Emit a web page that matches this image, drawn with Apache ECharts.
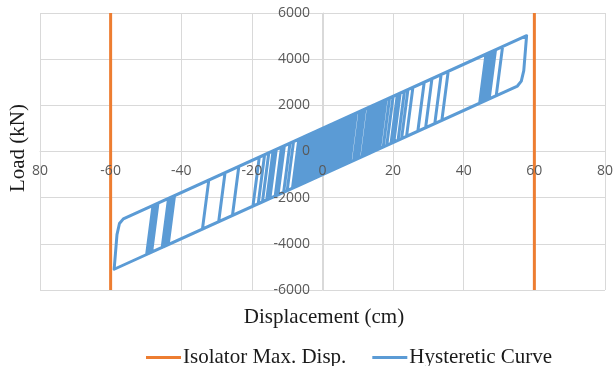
<!DOCTYPE html>
<html>
<head>
<meta charset="utf-8">
<script src="https://cdn.jsdelivr.net/npm/echarts@6/dist/echarts.min.js"></script>
<style>
  html, body { margin: 0; padding: 0; background: #ffffff; }
  #chart { width: 616px; height: 366px; }
</style>
</head>
<body>
<div id="chart"></div>
<script>
// ---- data ----
const xTickLabels = ['80', '-60', '-40', '-20', '0', '20', '40', '60', '80'];
const yTickLabels = ['-6000', '-4000', '-2000', '0', '2000', '4000', '6000'];
const isolatorLimits = [-60, 60];
const isolatorLoadSpan = [-6000, 6000];
const seriesNames = ['Isolator Max. Disp.', 'Hysteretic Curve'];

// hysteretic curve vertices [displacement (cm), load (kN)] in path order
const hysteresisPath = [
  [0, 0],
  [3.0, 1209], [1.2, -917],
  [-2.5, -1174], [-0.7, 951],
  [4.2, 1292], [2.4, -833],
  [-3.7, -1257], [-1.9, 868],
  [2.4, 1167], [0.6, -958],
  [-4.9, -1341], [-3.1, 784],
  [5.4, 1375], [3.6, -750],
  [-1.9, -1132], [-0.1, 993],
  [1.8, 1125], [0.0, -1000],
  [-6.1, -1424], [-4.3, 701],
  [6.6, 1459], [4.8, -666],
  [-3.1, -1215], [-1.3, 910],
  [3.6, 1250], [1.8, -875],
  [-7.3, -1507], [-5.5, 618],
  [7.8, 1542], [6.0, -583],
  [-0.7, -1049], [1.1, 1076],
  [1.2, 1083], [-0.6, -1042],
  [-8.5, -1591], [-6.7, 534],
  [9.0, 1626], [7.2, -500],
  [-4.3, -1299], [-2.5, 826],
  [4.8, 1334], [3.0, -791],
  [-5.5, -1382], [-3.7, 743],
  [6.0, 1417], [4.2, -708],
  [-1.3, -1090], [0.5, 1035],
  [10.6, 1737], [8.8, -388],
  [-10.0, -1695], [-8.2, 430],
  [7.2, 1500], [5.4, -625],
  [-6.7, -1466], [-4.9, 659],
  [11.3, 1785], [9.5, -340],
  [-11.0, -1765], [-9.2, 361],
  [8.4, 1584], [6.6, -541],
  [-7.9, -1549], [-6.1, 576],
  [12.0, 1834], [10.2, -291],
  [-12.6, -1876], [-10.8, 249],
  [9.6, 1667], [7.8, -458],
  [-0.1, -1007], [1.7, 1118],
  [13.0, 1904], [11.2, -222],
  [-13.4, -1931], [-11.6, 194],
  [13.8, 1959], [12.0, -166],
  [-14.9, -2036], [-13.1, 89],
  [14.6, 2015], [12.8, -110],
  [-2.8, -1195], [-1.0, 930],
  [15.4, 2070], [13.6, -55],
  [-15.8, -2098], [-14.0, 27],
  [16.3, 2133], [14.5, 8],
  [-5.2, -1361], [-3.4, 764],
  [17.2, 2195], [15.4, 70],
  [-17.0, -2182], [-15.2, -57],
  [18.0, 2251], [16.2, 126],
  [-7.6, -1528], [-5.8, 597],
  [19.0, 2321], [17.2, 196],
  [-18.2, -2265], [-16.4, -140],
  [20.0, 2390], [18.2, 265],
  [-0.4, -1028], [1.4, 1097],
  [21.2, 2473], [19.4, 348],
  [-19.7, -2369], [-17.9, -244],
  [22.0, 2529], [20.2, 404],
  [-3.4, -1236], [-1.6, 889],
  [23.2, 2612], [21.4, 487],
  [-25.5, -2772], [-23.7, -647],
  [24.2, 2682], [22.4, 557],
  [-6.4, -1445], [-4.6, 680],
  [25.6, 2779], [23.8, 654],
  [-29.4, -3043], [-27.6, -918],
  [28.8, 3002], [27.0, 877],
  [0.4, -972], [2.2, 1153],
  [31.0, 3155], [29.2, 1030],
  [-34.0, -3363], [-32.2, -1238],
  [33.6, 3335], [31.8, 1210],
  [-1.6, -1111], [0.2, 1014],
  [35.6, 3474], [33.8, 1349],
  [-43.7, -4037], [-41.9, -1912],
  [46.3, 4218], [44.5, 2093],
  [-44.3, -4079], [-42.5, -1954],
  [46.8, 4253], [45.0, 2128],
  [-48.4, -4364], [-46.6, -2239],
  [47.3, 4287], [45.5, 2162],
  [-4.6, -1320], [-2.8, 805],
  [47.8, 4322], [46.0, 2197],
  [-49.8, -4461], [-48.0, -2336],
  [57.8, 5017], [57.0, 3500], [56.3, 3050], [55.2, 2836],
  [-59.0, -5101], [-58.2, -3600], [-57.5, -3120], [-56.4, -2920],
  [51.0, 4545], [49.2, 2420],
  [-49.0, -4406], [-47.2, -2281],
  [48.4, 4364], [46.6, 2239],
  [-44.9, -4121], [-43.1, -1996],
  [49.0, 4406], [47.2, 2281],
  [-45.4, -4155], [-43.6, -2030],
  [5.0, 1348], [3.2, -778]
];

// ---- chart ----
const ORANGE = '#ED7D31';
const BLUE = '#5B9BD5';
const GRID = '#d9d9d9';
const LABEL = '#595959';
const SERIF = '"Liberation Serif", "Times New Roman", serif';
const SANS = '"Open Sans", "Liberation Sans", sans-serif';

const GRID_LEFT = 40, GRID_RIGHT = 10, GRID_TOP = 13, GRID_BOTTOM = 76;
const W = 616, H = 366;
const plotW = W - GRID_LEFT - GRID_RIGHT;
const plotH = H - GRID_TOP - GRID_BOTTOM;

const chart = echarts.init(document.getElementById('chart'), null, { renderer: 'canvas' });

const isolatorSeries = isolatorLimits.map(function (d) {
  return {
    name: seriesNames[0],
    type: 'line',
    data: [[d, isolatorLoadSpan[0]], [d, isolatorLoadSpan[1]]],
    showSymbol: false,
    symbol: 'none',
    lineStyle: { color: ORANGE, width: 3 },
    itemStyle: { color: ORANGE },
    z: 3,
    animation: false
  };
});

function xAxisCfg(showGrid, showLabels, z) {
  return {
    type: 'value',
    position: 'bottom',
    offset: -plotH / 2,
    min: -80, max: 80, interval: 20,
    z: z,
    axisLine: { show: showGrid, onZero: false, lineStyle: { color: GRID, width: 1 } },
    axisTick: { show: false },
    splitLine: { show: showGrid, lineStyle: { color: GRID, width: 1 } },
    axisLabel: {
      show: showLabels, margin: 13, color: LABEL, fontFamily: SANS, fontSize: 14,
      showMinLabel: true, showMaxLabel: true, hideOverlap: false,
      formatter: function (v) { return xTickLabels[Math.round((v + 80) / 20)]; }
    }
  };
}
function yAxisCfg(showGrid, showLabels, z) {
  return {
    type: 'value',
    position: 'left',
    offset: -plotW / 2,
    min: -6000, max: 6000, interval: 2000,
    z: z,
    axisLine: { show: showGrid, onZero: false, lineStyle: { color: GRID, width: 1 } },
    axisTick: { show: false },
    splitLine: { show: showGrid, lineStyle: { color: GRID, width: 1 } },
    axisLabel: {
      show: showLabels, margin: 13, color: LABEL, fontFamily: SANS, fontSize: 14,
      showMinLabel: true, showMaxLabel: true, hideOverlap: false,
      formatter: function (v) { return yTickLabels[Math.round((v + 6000) / 2000)]; }
    }
  };
}

chart.setOption({
  animation: false,
  backgroundColor: '#ffffff',
  grid: { left: GRID_LEFT, right: GRID_RIGHT, top: GRID_TOP, bottom: GRID_BOTTOM, containLabel: false },
  xAxis: [xAxisCfg(true, false, 0), xAxisCfg(false, true, 10)],
  yAxis: [yAxisCfg(true, false, 0), yAxisCfg(false, true, 10)],
  legend: {
    data: [
      { name: seriesNames[0], icon: 'rect', itemStyle: { color: ORANGE } },
      { name: seriesNames[1], icon: 'rect', itemStyle: { color: BLUE } }
    ],
    left: 141, top: 342,
    itemWidth: 35, itemHeight: 3, itemGap: 26,
    textStyle: { fontFamily: SERIF, fontSize: 21, color: '#1a1a1a', padding: [0, 0, 0, -3] }
  },
  graphic: [
    {
      type: 'text', x: 324, y: 317,
      style: { text: 'Displacement (cm)', font: '21px ' + SERIF, fill: '#1a1a1a', align: 'center', verticalAlign: 'middle' }
    },
    {
      type: 'text', x: 18, y: 148, rotation: Math.PI / 2,
      style: { text: 'Load (kN)', font: '21px ' + SERIF, fill: '#1a1a1a', align: 'center', verticalAlign: 'middle' }
    }
  ],
  series: isolatorSeries.concat([
    {
      name: seriesNames[1],
      type: 'line',
      data: hysteresisPath,
      showSymbol: false,
      symbol: 'none',
      lineStyle: { color: BLUE, width: 3, join: 'round' },
      itemStyle: { color: BLUE },
      z: 2,
      animation: false
    }
  ])
});
</script>
</body>
</html>
